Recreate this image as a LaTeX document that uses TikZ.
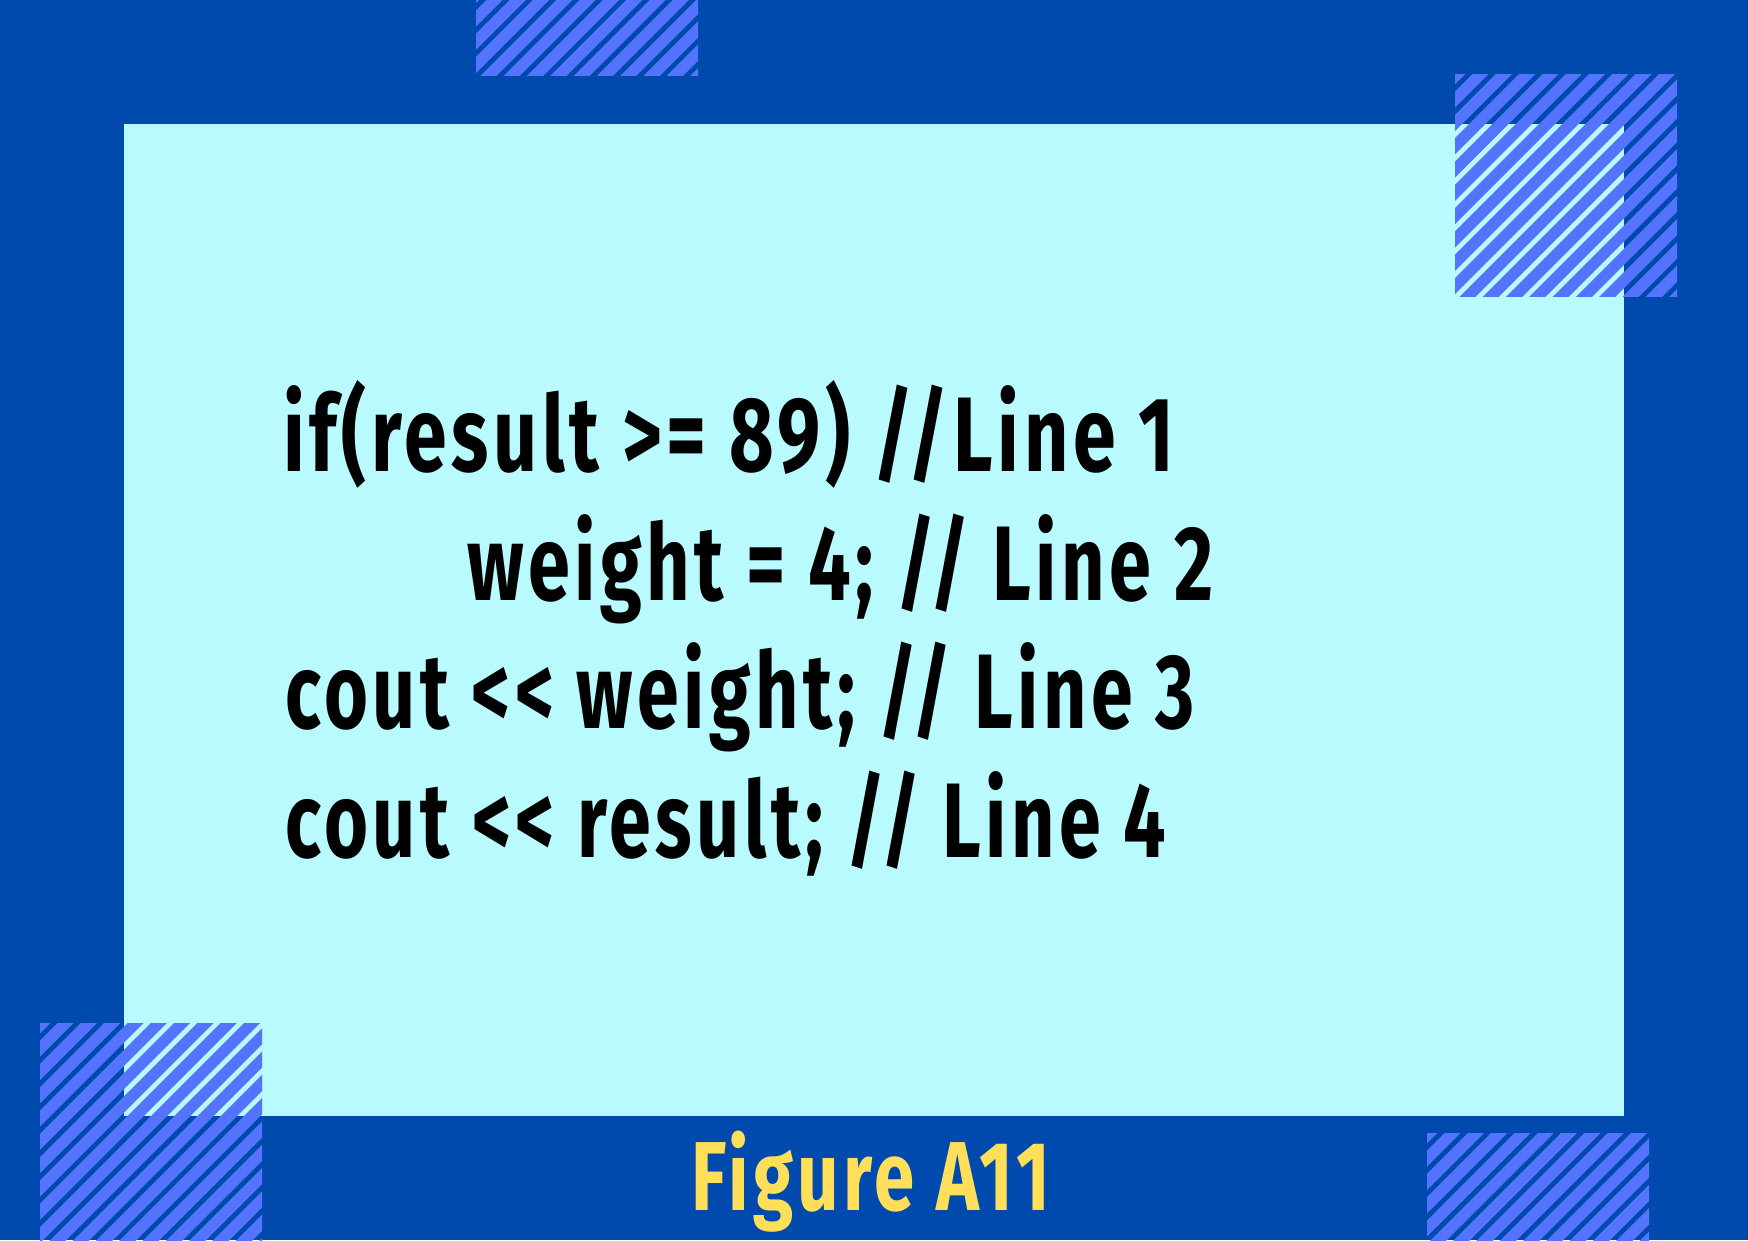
\documentclass[tikz,border=0pt]{standalone}
\usepackage{fontspec}
\setmainfont{Fira Sans}[Ligatures=TeXOff]
\newfontfamily\codefont{Fira Sans}[Ligatures=TeXOff, LetterSpace=6]
\usepackage{graphicx}
\definecolor{darkbg}{HTML}{004AAD}
\definecolor{panelc}{HTML}{B8FAFE}
\definecolor{hatchblue}{HTML}{5474FF}
\definecolor{figyellow}{HTML}{FFDE59}
\newcommand\hatchsq[2]{%
  \begin{scope}
    \clip (#1,#2) rectangle ++(222,222);
    \foreach \k in {-1,...,20}{
      \draw[hatchblue, line width=11.4pt]
        ({#1+2.35+23.3*\k+40},{#2-40}) -- ++(-520,520);
    }
  \end{scope}}
\newcommand\codeline[2]{\resizebox{#1pt}{\height}{#2}}
\begin{document}
\begin{tikzpicture}[x=1pt,y=-1pt,
  codetext/.style={inner sep=0pt, anchor=base west, font=\codefont\bfseries\fontsize{106}{106}\selectfont, text=black},
  figtext/.style={inner sep=0pt, anchor=base west, font=\codefont\bfseries\fontsize{98}{98}\selectfont, text=figyellow}]
  \useasboundingbox (0,0) rectangle (1748,1240);
  \fill[darkbg] (0,0) rectangle (1748,1240);
  \fill[panelc] (124,124) rectangle (1624,1116);
  \hatchsq{476}{-147}
  \hatchsq{1455}{74}
  \hatchsq{40}{1023}
  \hatchsq{1427}{1133}
  \node[codetext] (l1) at (283,471) {\codeline{891}{if(result >= 89) //Line 1}};
  \node[codetext] (l2) at (467,600) {\codeline{746}{weight = 4; // Line 2}};
  \node[codetext] (l3) at (285,728) {\codeline{909}{cout << weight; // Line 3}};
  \node[codetext] (l4) at (285,857) {\codeline{881}{cout << result; // Line 4}};
  \node[figtext] (fig) at (691,1210) {\codeline{359}{Figure A11}};
\end{tikzpicture}
\end{document}
